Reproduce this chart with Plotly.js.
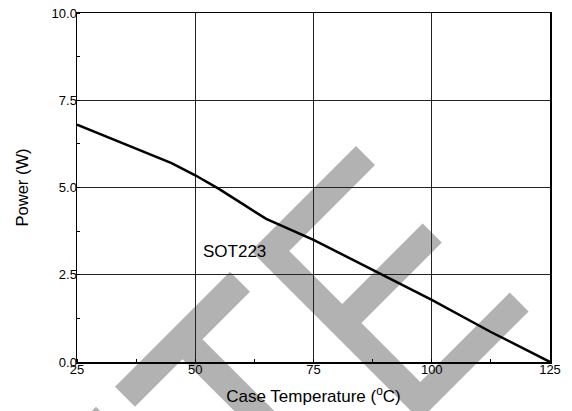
<!DOCTYPE html>
<html>
<head>
<meta charset="utf-8">
<script src="https://cdn.plot.ly/plotly-3.0.1.min.js"></script>
<style>
  html, body { margin: 0; padding: 0; background: #ffffff; }
  #chart { width: 572px; height: 411px; }
</style>
</head>
<body>
<div id="chart"></div>
<script>
// ---- data ----
const caseTemp = [25, 35, 45, 50, 55, 60, 65, 75, 87.5, 100, 112.5, 125];
const powerW   = [6.8, 6.26, 5.7, 5.35, 4.96, 4.53, 4.1, 3.5, 2.64, 1.78, 0.86, 0];
const seriesName = 'SOT223';
const xTickVals = [25, 50, 75, 100, 125];
const xTickText = ['25', '50', '75', '100', '125'];
const yTickVals = [0, 2.5, 5, 7.5, 10];
const yTickText = ['0.0', '2.5', '5.0', '7.5', '10.0'];

// ---- layout geometry ----
const W = 572, H = 411;
const M = { l: 77, r: 22, t: 13, b: 49 };
const PW = W - M.l - M.r, PH = H - M.t - M.b;

// watermark polygons (page pixels), converted to paper coordinates
const watermark = [
  [[115,386.7],[230,271.7],[250,291.7],[202.5,339.2],[381.7,518.4],[361.7,538.4],[182.5,359.2],[135,406.7]],
  [[251,251],[356,146],[375,165],[289.2,250.9],[342.2,303.9],[422.6,223.4],[441.8,242.6],[361.4,323.1],
   [420.3,382],[509.8,292.6],[528.6,311.4],[420,420]],
  [[96,406.7],[109.3,420],[82.7,420]]
];
function toPath(poly) {
  return poly.map((p, i) => {
    const xp = (p[0] - M.l) / PW;
    const yp = (H - M.b - p[1]) / PH;
    return (i ? 'L' : 'M') + xp.toFixed(5) + ',' + yp.toFixed(5);
  }).join(' ') + ' Z';
}
const shapes = watermark.map(poly => ({
  type: 'path', xref: 'paper', yref: 'paper', path: toPath(poly),
  fillcolor: '#b2b2b2', line: { width: 0 }, layer: 'below'
}));

const font = { family: '"Liberation Sans", Arial, sans-serif', color: '#000000' };

const trace = {
  x: caseTemp, y: powerW, type: 'scatter', mode: 'lines', name: seriesName,
  line: { color: '#000000', width: 2.5 }, hoverinfo: 'x+y'
};

const layout = {
  width: W, height: H,
  margin: M,
  paper_bgcolor: 'rgba(0,0,0,0)',
  plot_bgcolor: 'rgba(0,0,0,0)',
  showlegend: false,
  font: Object.assign({ size: 13 }, font),
  shapes: shapes,
  xaxis: {
    range: [25, 125], tickvals: xTickVals, ticktext: xTickText,
    showgrid: true, gridcolor: '#222222', gridwidth: 1,
    showline: true, linecolor: '#000000', linewidth: 1.5, mirror: true,
    ticks: '', zeroline: false,
    ticklabelstandoff: -5,
    tickfont: Object.assign({ size: 13 }, font),
    minor: { dtick: 12.5, ticks: 'inside', ticklen: 3, tickcolor: '#000000', tickwidth: 1, showgrid: false },
    title: { text: 'Case Temperature (<sup>o</sup>C)', font: Object.assign({ size: 17 }, font), standoff: 14 }
  },
  yaxis: {
    range: [0, 10], tickvals: yTickVals, ticktext: yTickText,
    showgrid: true, gridcolor: '#222222', gridwidth: 1,
    showline: true, linecolor: '#000000', linewidth: 1.5, mirror: true,
    ticks: '', zeroline: false,
    ticklabelstandoff: -4,
    tickfont: Object.assign({ size: 13 }, font),
    minor: { dtick: 1.25, ticks: 'inside', ticklen: 3, tickcolor: '#000000', tickwidth: 1, showgrid: false },
    title: { text: 'Power (W)', font: Object.assign({ size: 16.5 }, font), standoff: 19 }
  },
  annotations: [{
    x: 58.4, y: 3.16, xref: 'x', yref: 'y', text: seriesName, showarrow: false,
    font: Object.assign({ size: 17 }, font), xanchor: 'center', yanchor: 'middle'
  }]
};

Plotly.newPlot('chart', [trace], layout, { displayModeBar: false, staticPlot: true });
</script>
</body>
</html>
